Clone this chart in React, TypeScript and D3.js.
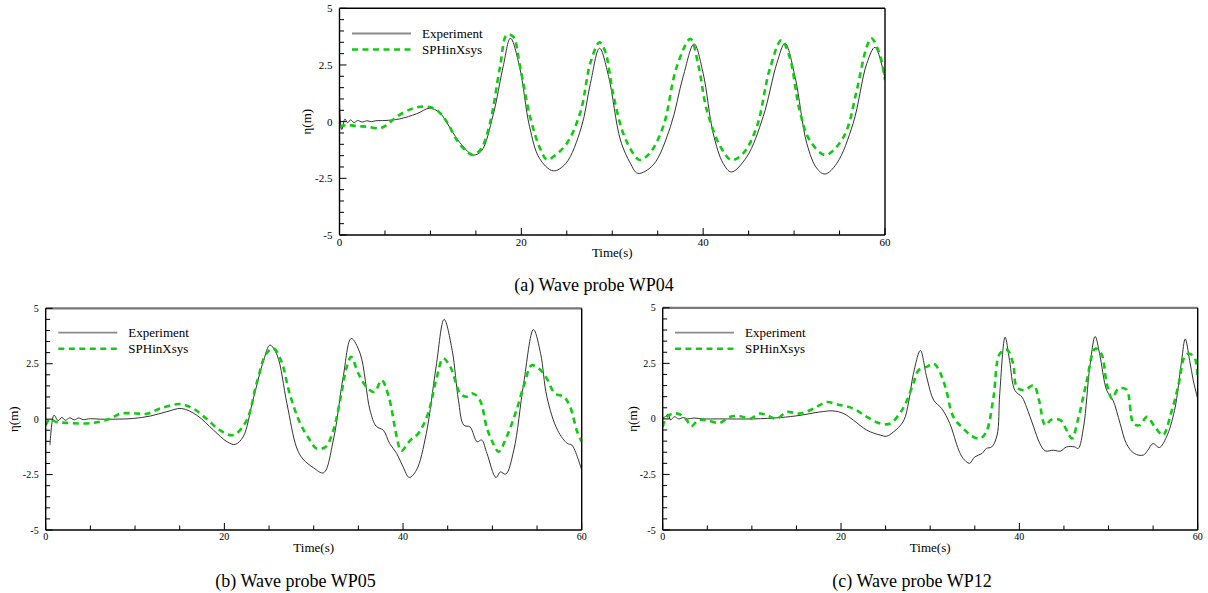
import React from 'react';
import * as d3 from 'd3';

// ---------- data (time in s, eta in m) ----------
const wp04ExpT = [0, 0.05, 0.25, 0.6, 0.9, 1.2, 1.6, 2.0, 2.5, 3.0, 3.5, 4.0, 5.0, 6.6, 8.5, 9.9, 11.0, 12.5, 13.5, 14.7, 15.6, 16.9, 18.0, 18.8, 19.8, 20.9, 22.0, 23.5, 24.9, 26.6, 27.6, 28.6, 29.6, 30.9, 32.0, 32.8, 34.5, 36.4, 37.8, 39.0, 40.0, 41.1, 42.2, 43.1, 44.8, 46.6, 48.1, 49.0, 50.1, 51.4, 52.5, 53.4, 54.7, 56.5, 58.0, 58.9, 60];
const wp04ExpEta = [0.9, 0.3, -0.35, 0.12, -0.05, 0.08, -0.04, 0.05, -0.02, 0.04, 0.0, 0.04, 0.05, 0.12, 0.35, 0.59, 0.4, -0.5, -1.05, -1.47, -1.3, 0.3, 2.43, 3.68, 2.43, -0.21, -1.62, -2.17, -1.84, -0.25, 1.69, 3.24, 1.99, -0.81, -1.84, -2.28, -1.91, -0.22, 1.99, 3.43, 2.13, -0.51, -1.84, -2.22, -1.55, 0.22, 2.57, 3.46, 1.99, -0.96, -2.06, -2.31, -1.84, -0.07, 2.57, 3.28, 1.9];
const wp04SphT = [0, 0.8, 2.0, 3.0, 4.45, 5.2, 6.3, 8.1, 9.6, 10.7, 11.8, 12.9, 14.0, 14.7, 15.6, 16.55, 17.66, 18.4, 19.1, 19.86, 20.96, 22.06, 22.8, 23.5, 25.0, 26.5, 27.6, 28.6, 29.2, 30.1, 31.2, 32.3, 33.0, 34.1, 35.6, 37.1, 38.6, 39.5, 40.4, 41.9, 43.1, 44.4, 45.9, 47.3, 48.6, 49.5, 50.6, 51.7, 53.4, 54.7, 55.8, 56.9, 58.0, 58.5, 59.4, 60];
const wp04SphEta = [-0.22, -0.15, -0.2, -0.22, -0.29, -0.15, 0.22, 0.59, 0.66, 0.51, 0.0, -0.81, -1.32, -1.47, -1.18, -0.07, 2.43, 3.83, 3.75, 2.43, 0.22, -1.18, -1.67, -1.55, -0.96, 0.42, 2.6, 3.5, 3.13, 1.22, -0.51, -1.4, -1.69, -1.4, -0.22, 2.43, 3.65, 2.43, 0.51, -1.1, -1.69, -1.4, -0.22, 2.28, 3.59, 2.87, 0.51, -0.81, -1.47, -1.1, -0.37, 1.4, 3.31, 3.68, 3.0, 1.84];

const wp05ExpT = [0.48, 0.93, 1.4, 1.8, 2.2, 2.7, 3.2, 3.7, 4.2, 5.0, 6.1, 8.0, 9.8, 11.7, 13.5, 15.2, 16.9, 18.8, 20.3, 21.2, 22.1, 23.2, 24.4, 25.1, 25.9, 27.0, 28.1, 28.8, 30.0, 31.1, 32.2, 33.3, 34.2, 35.2, 36.3, 37.0, 37.8, 38.5, 39.3, 40.0, 40.7, 41.5, 42.6, 43.7, 44.6, 45.5, 46.2, 46.8, 47.5, 48.3, 48.8, 49.4, 50.4, 50.9, 51.5, 52.4, 53.5, 54.6, 55.4, 56.1, 57.3, 58.4, 58.9, 60];
const wp05ExpEta = [-1.17, 0.18, -0.07, 0.08, -0.05, 0.06, -0.03, 0.05, -0.02, 0.02, 0.0, 0.0, 0.03, 0.14, 0.33, 0.48, 0.18, -0.5, -1.02, -1.14, -0.8, 0.86, 2.66, 3.34, 2.89, 0.71, -1.3, -1.8, -2.2, -2.42, -0.94, 1.91, 3.64, 2.96, 0.41, -0.32, -0.5, -1.1, -1.55, -2.15, -2.63, -2.3, -0.65, 2.36, 4.5, 3.11, 0.86, -0.27, -0.35, -1.02, -0.94, -1.55, -2.63, -2.38, -2.48, -1.4, 1.61, 4.04, 2.96, 1.01, -0.5, -1.1, -1.17, -2.3];
const wp05SphT = [0, 0.5, 1.0, 2.3, 5.3, 7.2, 8.3, 9.8, 11.3, 12.8, 15.0, 16.5, 18.0, 19.5, 21.0, 22.5, 23.6, 24.7, 25.5, 26.4, 27.3, 28.5, 29.6, 30.3, 31.3, 32.2, 33.1, 33.7, 34.2, 35.0, 35.9, 36.8, 37.6, 38.4, 39.3, 39.8, 40.8, 41.7, 42.8, 43.7, 44.5, 45.3, 46.4, 47.1, 47.8, 48.6, 49.4, 50.1, 50.7, 51.6, 52.7, 53.6, 54.4, 55.4, 56.1, 57.0, 58.0, 58.7, 59.5, 60];
const wp05SphEta = [-0.27, 0.02, -0.1, -0.17, -0.17, 0.02, 0.24, 0.27, 0.24, 0.48, 0.68, 0.48, 0.02, -0.5, -0.72, -0.05, 1.6, 2.96, 3.19, 2.59, 1.16, -0.2, -0.96, -1.32, -1.26, -0.5, 1.16, 2.36, 2.81, 2.06, 1.46, 1.23, 1.76, 1.01, -0.8, -1.43, -0.96, -0.65, 0.25, 1.76, 2.74, 2.36, 1.16, 1.01, 1.16, 0.86, -0.42, -1.1, -1.47, -0.8, 0.41, 1.61, 2.43, 2.21, 1.83, 1.16, 1.01, 0.56, -0.57, -1.02];

const wp12ExpT = [0, 0.3, 0.6, 0.9, 1.3, 1.8, 2.3, 2.8, 3.5, 4.5, 6.4, 10.2, 13.2, 15.4, 17.6, 19.1, 20.3, 21.4, 22.9, 24.4, 25.1, 25.9, 27.0, 27.6, 28.1, 28.9, 29.6, 30.4, 31.3, 32.2, 33.2, 33.7, 34.4, 35.0, 35.8, 36.3, 36.9, 37.5, 37.8, 38.4, 38.9, 39.5, 40.3, 40.8, 41.6, 42.3, 42.9, 43.8, 44.6, 45.3, 46.2, 46.6, 47.2, 47.9, 48.5, 49.0, 49.8, 50.5, 51.3, 52.0, 52.9, 53.9, 54.4, 55.0, 55.7, 56.5, 57.4, 58.2, 58.6, 59.1, 59.5, 60];
const wp12ExpEta = [0.05, 0.1, 0.22, -0.05, 0.1, 0.0, 0.06, 0.0, 0.04, 0.0, 0.0, 0.0, 0.06, 0.16, 0.31, 0.36, 0.24, -0.06, -0.51, -0.73, -0.78, -0.58, -0.1, 0.8, 2.0, 3.08, 1.89, 0.84, 0.46, -0.21, -1.41, -1.78, -2.0, -1.71, -1.56, -1.33, -1.26, -0.73, 1.14, 3.68, 2.63, 1.28, 0.98, 0.53, -0.36, -1.11, -1.44, -1.41, -1.45, -1.26, -1.26, -1.33, -0.36, 2.34, 3.71, 2.93, 1.28, 0.84, -0.21, -1.11, -1.56, -1.63, -1.41, -1.11, -1.29, -0.81, 0.38, 2.63, 3.6, 2.63, 1.74, 0.9];
const wp12SphT = [0, 0.45, 1.2, 1.9, 2.7, 3.2, 4.0, 4.9, 6.4, 7.5, 8.7, 9.8, 10.9, 11.7, 12.8, 13.9, 15.4, 16.9, 18.4, 19.5, 21.4, 22.9, 24.4, 25.5, 26.6, 27.4, 28.1, 28.7, 29.6, 30.4, 30.9, 31.7, 32.6, 33.7, 34.7, 35.6, 36.3, 37.1, 37.8, 38.6, 39.3, 39.7, 40.5, 41.6, 42.2, 42.9, 43.6, 44.6, 45.3, 45.9, 46.6, 47.5, 48.5, 49.2, 49.8, 50.4, 51.1, 52.0, 52.8, 53.5, 54.3, 55.2, 56.1, 57.0, 57.8, 58.6, 59.1, 59.7, 60];
const wp12SphEta = [-0.36, 0.09, 0.24, 0.21, -0.06, -0.33, -0.06, -0.06, -0.18, 0.09, 0.12, 0.01, 0.24, 0.16, 0.01, 0.31, 0.24, 0.46, 0.76, 0.66, 0.46, 0.09, -0.21, -0.21, 0.25, 0.84, 1.59, 2.19, 2.34, 2.49, 2.26, 1.44, 0.09, -0.43, -0.78, -0.88, -0.58, 0.98, 2.93, 3.11, 2.49, 1.44, 1.29, 1.51, 0.84, -0.28, -0.03, -0.06, -0.51, -0.88, 0.01, 1.59, 3.16, 2.93, 1.59, 0.91, 1.36, 1.32, -0.21, -0.28, 0.09, -0.36, -0.73, 0.24, 1.44, 2.86, 2.93, 2.71, 1.81];

const xTickValues = [0, 5, 10, 15, 20, 25, 30, 35, 40, 45, 50, 55, 60];
const xTickLabels = ['0', '', '', '', '20', '', '', '', '40', '', '', '', '60'];
const yMajorValues = [5, 2.5, 0, -2.5, -5];
const yMajorLabels = ['5', '2.5', '0', '-2.5', '-5'];
const seriesNames = ['Experiment', 'SPHinXsys'];
const captions = ['(a) Wave probe WP04', '(b) Wave probe WP05', '(c) Wave probe WP12'];

const zip = (t: number[], v: number[]) => t.map((d, i) => [d, v[i]] as [number, number]);

const FONT = '"Liberation Serif", "Times New Roman", serif';
const GREEN = '#10cc10';

type PanelProps = {
  id: string;
  left: number; right: number; top: number; bottom: number;
  exp: [number, number][]; sph: [number, number][];
  caption: string; captionX: number; captionY: number;
  tickFont: number; yLabelX: number;
  legendX: number; legendY: number;
  grayTop: boolean;
};

function Panel(p: PanelProps) {
  const x = d3.scaleLinear().domain([0, 60]).range([p.left, p.right]);
  const y = d3.scaleLinear().domain([-5, 5]).range([p.bottom, p.top]);
  const line = d3.line<[number, number]>()
    .x(d => x(d[0])).y(d => y(d[1]))
    .curve(d3.curveCatmullRom.alpha(0.5));
  const yMinor = d3.range(-5, 5.001, 0.5);
  return (
    <g>
      <defs>
        <clipPath id={p.id}>
          <rect x={p.left} y={p.top} width={p.right - p.left} height={p.bottom - p.top} />
        </clipPath>
      </defs>
      <g clipPath={`url(#${p.id})`}>
        <path d={line(p.exp) || ''} fill="none" stroke="#333" strokeWidth={1} />
        <path d={line(p.sph) || ''} fill="none" stroke={GREEN} strokeWidth={2.6} strokeDasharray="6,4.5" />
      </g>
      {/* frame */}
      <line x1={p.left} x2={p.right} y1={p.top} y2={p.top} stroke={p.grayTop ? '#777' : '#000'} strokeWidth={p.grayTop ? 2.2 : 1.4} />
      <line x1={p.left} x2={p.right} y1={p.bottom} y2={p.bottom} stroke="#000" strokeWidth={1.4} />
      <line x1={p.left} x2={p.left} y1={p.top} y2={p.bottom} stroke="#000" strokeWidth={1.4} />
      <line x1={p.right} x2={p.right} y1={p.top} y2={p.bottom} stroke="#000" strokeWidth={1.4} />
      {/* x ticks */}
      {xTickValues.map((v, i) => (
        <g key={'xt' + i}>
          <line x1={x(v)} x2={x(v)} y1={p.bottom} y2={p.bottom - (xTickLabels[i] ? 7 : 4.5)} stroke="#000" strokeWidth={1} />
          {xTickLabels[i] && (
            <text x={x(v)} y={p.bottom + p.tickFont - 0.5} textAnchor="middle" fontFamily={FONT} fontSize={p.tickFont}>{xTickLabels[i]}</text>
          )}
        </g>
      ))}
      {/* y ticks */}
      {yMinor.map((v, i) => {
        const major = Math.abs(v / 2.5 - Math.round(v / 2.5)) < 1e-6;
        return <line key={'ym' + i} x1={p.left} x2={p.left + (major ? 7 : 4.5)} y1={y(v)} y2={y(v)} stroke="#000" strokeWidth={1} />;
      })}
      {yMajorValues.map((v, i) => (
        <text key={'yl' + i} x={p.left - 7} y={y(v)} dy="0.35em" textAnchor="end" fontFamily={FONT} fontSize={p.tickFont}>{yMajorLabels[i]}</text>
      ))}
      {/* axis titles */}
      <text x={(p.left + p.right) / 2} y={p.bottom + 22} textAnchor="middle" fontFamily={FONT} fontSize={13}>Time(s)</text>
      <text transform={`translate(${p.yLabelX},${(p.top + p.bottom) / 2}) rotate(-90)`} textAnchor="middle" dy="0.35em" fontFamily={FONT} fontSize={13}>η(m)</text>
      {/* legend */}
      <line x1={p.legendX} x2={p.legendX + 59} y1={p.legendY} y2={p.legendY} stroke="#8a8a8a" strokeWidth={1.8} />
      <text x={p.legendX + 70} y={p.legendY + 4.5} fontFamily={FONT} fontSize={13}>{seriesNames[0]}</text>
      <line x1={p.legendX} x2={p.legendX + 59} y1={p.legendY + 16} y2={p.legendY + 16} stroke={GREEN} strokeWidth={2.6} strokeDasharray="6,4.5" />
      <text x={p.legendX + 70} y={p.legendY + 20.5} fontFamily={FONT} fontSize={13}>{seriesNames[1]}</text>
      {/* caption */}
      <text x={p.captionX} y={p.captionY} textAnchor="middle" fontFamily={FONT} fontSize={18}>{p.caption}</text>
    </g>
  );
}

export default function App() {
  return (
    <svg width={1208} height={593} style={{ position: 'absolute', left: 0, top: 0, background: '#fff' }}>
      <Panel id="cpA" left={339.5} right={885} top={8.3} bottom={235}
        exp={zip(wp04ExpT, wp04ExpEta)} sph={zip(wp04SphT, wp04SphEta)}
        caption={captions[0]} captionX={594} captionY={291} tickFont={11} yLabelX={306}
        legendX={352} legendY={33.5} grayTop={false} />
      <Panel id="cpB" left={45.7} right={581.7} top={308.3} bottom={530}
        exp={zip(wp05ExpT, wp05ExpEta)} sph={zip(wp05SphT, wp05SphEta)}
        caption={captions[1]} captionX={295.5} captionY={587} tickFont={10} yLabelX={13}
        legendX={58.3} legendY={332.7} grayTop={true} />
      <Panel id="cpC" left={662.7} right={1197.7} top={307.8} bottom={530}
        exp={zip(wp12ExpT, wp12ExpEta)} sph={zip(wp12SphT, wp12SphEta)}
        caption={captions[2]} captionX={912} captionY={587} tickFont={10} yLabelX={632}
        legendX={675} legendY={332.7} grayTop={true} />
    </svg>
  );
}
